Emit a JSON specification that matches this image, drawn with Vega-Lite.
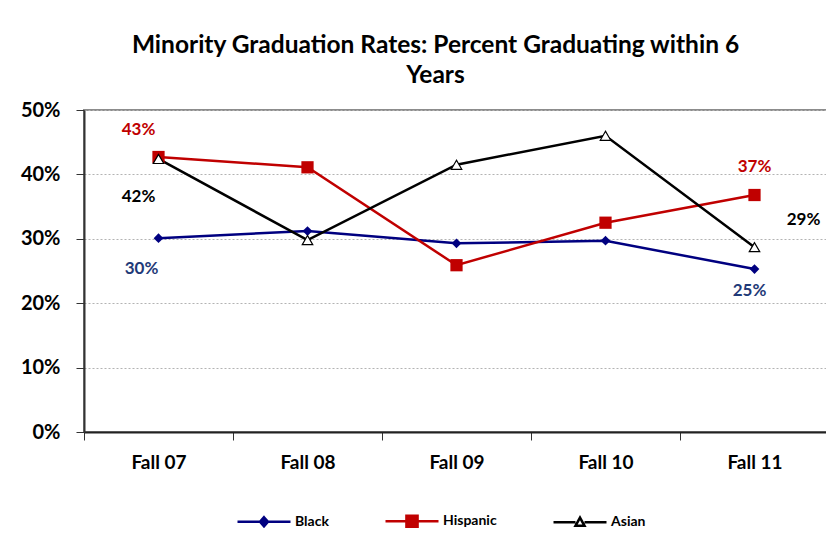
{
  "$schema": "https://vega.github.io/schema/vega-lite/v6.json",
  "autosize": "none",
  "padding": {"left": 84, "top": 110, "right": 0, "bottom": 125},
  "width": 745,
  "height": 322,
  "background": "white",
  "title": {
    "text": ["Minority Graduation Rates:  Percent Graduating within 6", "Years"],
    "font": "Lato",
    "fontSize": 24.5,
    "fontWeight": "bold",
    "color": "#000000",
    "anchor": "middle",
    "dx": -21,
    "lineHeight": 30,
    "offset": 12
  },
  "config": {
    "font": "Lato",
    "view": {"stroke": "#8c8c8c", "strokeWidth": 2},
    "axis": {"labelFont": "Lato", "labelFontWeight": "bold", "labelColor": "#000000"}
  },
  "data": {
    "values": [
      {"period": "Fall 07", "group": "Black", "rate": 0.301},
      {"period": "Fall 08", "group": "Black", "rate": 0.312},
      {"period": "Fall 09", "group": "Black", "rate": 0.293},
      {"period": "Fall 10", "group": "Black", "rate": 0.297},
      {"period": "Fall 11", "group": "Black", "rate": 0.253},
      {"period": "Fall 07", "group": "Hispanic", "rate": 0.427},
      {"period": "Fall 08", "group": "Hispanic", "rate": 0.411},
      {"period": "Fall 09", "group": "Hispanic", "rate": 0.259},
      {"period": "Fall 10", "group": "Hispanic", "rate": 0.325},
      {"period": "Fall 11", "group": "Hispanic", "rate": 0.368},
      {"period": "Fall 07", "group": "Asian", "rate": 0.424},
      {"period": "Fall 08", "group": "Asian", "rate": 0.298},
      {"period": "Fall 09", "group": "Asian", "rate": 0.415},
      {"period": "Fall 10", "group": "Asian", "rate": 0.46},
      {"period": "Fall 11", "group": "Asian", "rate": 0.287}
    ]
  },
  "encoding": {
    "x": {
      "field": "period",
      "type": "nominal",
      "sort": null,
      "scale": {"paddingInner": 0, "paddingOuter": 0},
      "axis": {
        "title": null,
        "labelAngle": 0,
        "labelFontSize": 19,
        "labelPadding": 13,
        "tickBand": "extent",
        "tickSize": 8,
        "tickColor": "#333333",
        "domainColor": "#222222",
        "domainWidth": 2
      }
    },
    "y": {
      "field": "rate",
      "type": "quantitative",
      "scale": {"domain": [0, 0.5]},
      "axis": {
        "title": null,
        "format": ".0%",
        "values": [0, 0.1, 0.2, 0.3, 0.4, 0.5],
        "labelFontSize": 20,
        "labelPadding": 16,
        "tickSize": 8,
        "tickColor": "#333333",
        "domainColor": "#333333",
        "domainWidth": 2,
        "gridColor": "#b3b3b3",
        "gridDash": [2, 2],
        "gridWidth": 1
      }
    }
  },
  "layer": [
    {
      "mark": {"type": "line", "strokeWidth": 2.5},
      "encoding": {
        "color": {
          "field": "group",
          "type": "nominal",
          "scale": {"domain": ["Black", "Hispanic", "Asian"], "range": ["#000080", "#C00000", "#000000"]},
          "legend": {
            "title": null,
            "orient": "none",
            "direction": "horizontal",
            "legendX": 152,
            "legendY": 383,
            "padding": 0,
            "columnPadding": 51,
            "symbolSize": 2809,
            "symbolStrokeWidth": 2.5,
            "labelFont": "Lato",
            "labelFontSize": 14,
            "labelFontWeight": "bold",
            "labelColor": "#000000",
            "labelOffset": 3,
            "encode": {
              "symbols": {
                "update": {
                  "shape": {"signal": "datum.value == 'Black' ? 'M-1,0L1,0M0,-0.17L0.15,0L0,0.17L-0.15,0Z' : datum.value == 'Hispanic' ? 'M-1,0L1,0M-0.21,-0.21L0.21,-0.21L0.21,0.21L-0.21,0.21Z' : 'M-1,0L-0.17,0M0.17,0L1,0M0,-0.17L0.17,0.14L-0.17,0.14Z'"},
                  "fill": {"signal": "datum.value == 'Black' ? '#000080' : datum.value == 'Hispanic' ? '#C00000' : '#ffffff'"},
                  "stroke": {"signal": "datum.value == 'Black' ? '#000080' : datum.value == 'Hispanic' ? '#C00000' : '#000000'"},
                  "strokeWidth": {"value": 2.5},
                  "opacity": {"value": 1}
                }
              }
            }
          }
        }
      }
    },
    {
      "transform": [{"filter": "datum.group == 'Black'"}],
      "mark": {"type": "point", "shape": "diamond", "size": 95, "filled": true, "color": "#000080", "opacity": 1}
    },
    {
      "transform": [{"filter": "datum.group == 'Hispanic'"}],
      "mark": {"type": "point", "shape": "square", "size": 150, "filled": true, "color": "#C00000", "opacity": 1}
    },
    {
      "transform": [{"filter": "datum.group == 'Asian'"}],
      "mark": {"type": "point", "shape": "triangle-up", "size": 110, "filled": false, "fill": "#ffffff", "stroke": "#000000", "strokeWidth": 1.2, "opacity": 1}
    },
    {
      "transform": [{"filter": "datum.group == 'Hispanic' && datum.period == 'Fall 07'"}],
      "mark": {"type": "text", "font": "Lato", "fontSize": 17, "fontWeight": "bold", "color": "#C00000", "dx": -20, "dy": -27},
      "encoding": {"text": {"field": "rate", "format": ".0%"}}
    },
    {
      "transform": [{"filter": "datum.group == 'Asian' && datum.period == 'Fall 07'"}],
      "mark": {"type": "text", "font": "Lato", "fontSize": 17, "fontWeight": "bold", "color": "#000000", "dx": -20, "dy": 38},
      "encoding": {"text": {"field": "rate", "format": ".0%"}}
    },
    {
      "transform": [{"filter": "datum.group == 'Black' && datum.period == 'Fall 07'"}],
      "mark": {"type": "text", "font": "Lato", "fontSize": 17, "fontWeight": "bold", "color": "#1F3A78", "dx": -17, "dy": 31},
      "encoding": {"text": {"field": "rate", "format": ".0%"}}
    },
    {
      "transform": [{"filter": "datum.group == 'Hispanic' && datum.period == 'Fall 11'"}],
      "mark": {"type": "text", "font": "Lato", "fontSize": 17, "fontWeight": "bold", "color": "#C00000", "dx": 0, "dy": -28},
      "encoding": {"text": {"field": "rate", "format": ".0%"}}
    },
    {
      "transform": [{"filter": "datum.group == 'Asian' && datum.period == 'Fall 11'"}],
      "mark": {"type": "text", "font": "Lato", "fontSize": 17, "fontWeight": "bold", "color": "#000000", "dx": 49, "dy": -27},
      "encoding": {"text": {"field": "rate", "format": ".0%"}}
    },
    {
      "transform": [{"filter": "datum.group == 'Black' && datum.period == 'Fall 11'"}],
      "mark": {"type": "text", "font": "Lato", "fontSize": 17, "fontWeight": "bold", "color": "#1F3A78", "dx": -5, "dy": 22},
      "encoding": {"text": {"field": "rate", "format": ".0%"}}
    }
  ]
}
